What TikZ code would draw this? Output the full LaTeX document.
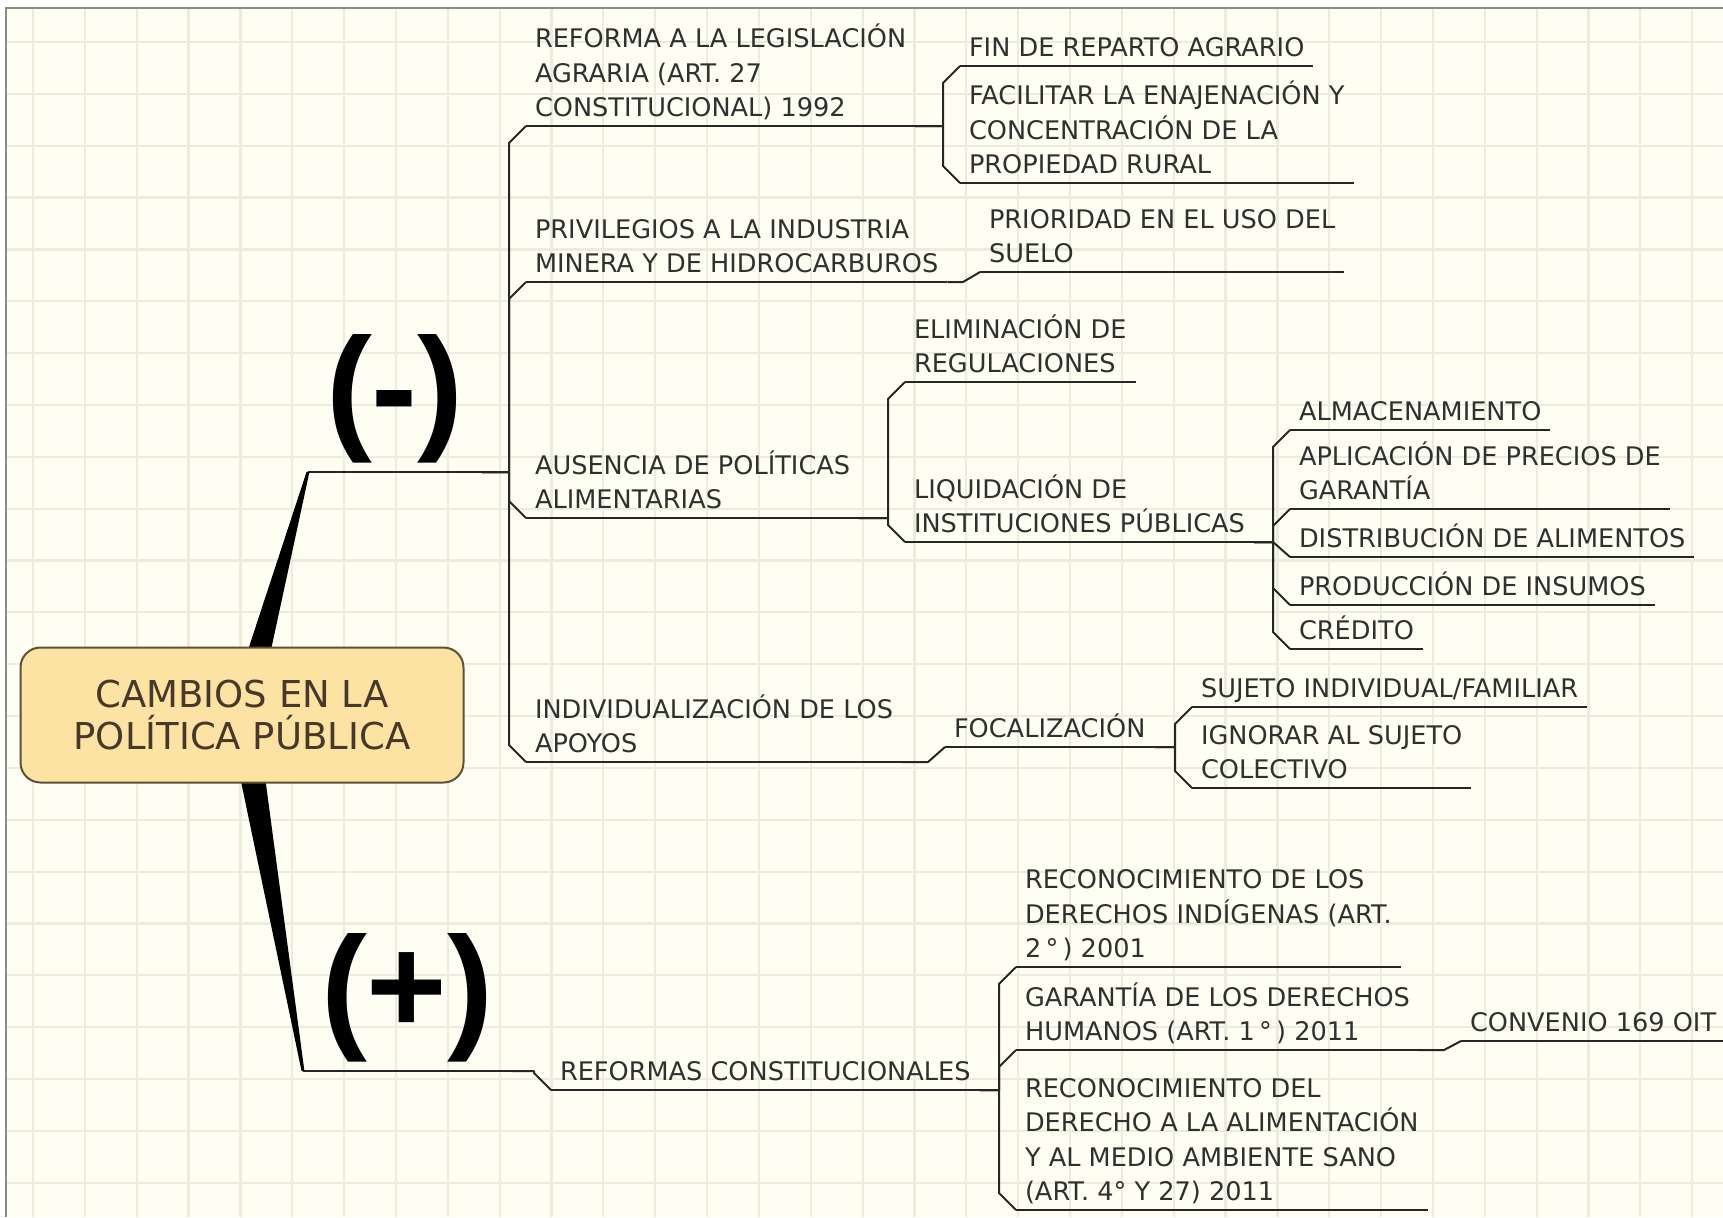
\documentclass[tikz,border=0pt]{standalone}
\usepackage{fontspec}
\setmainfont{DejaVu Sans}
\newfontfamily\signfont{Liberation Sans}
\usepackage{tikz}
\usetikzlibrary{calc}
\definecolor{sheet}{HTML}{FEFEF2}
\definecolor{gridtint}{HTML}{EBEBDE}
\definecolor{edgegray}{HTML}{8C8C80}
\definecolor{linegray}{HTML}{262626}
\definecolor{textgray}{HTML}{303030}
\definecolor{rootfill}{HTML}{FCE2A3}
\definecolor{rootline}{HTML}{5E5036}
\definecolor{roottext}{HTML}{46392A}
% parent underline -> bus -> bevel -> child underline
\newcommand{\twig}[2]{%
  \draw[uline] let \p1=(#1.south east), \p2=(#2.south west),
    \n1={min(8.5,abs(\y1-\y2))}, \n2={ifthenelse(\y1>\y2,1,-1)} in
    (\p1) -- ({\x2-8.5pt},\y1) -- ({\x2-8.5pt},{\y2+\n2*\n1}) -- (\p2);}

\begin{document}
\begin{tikzpicture}[x=0.5pt,y=-0.5pt,
   topic/.style={anchor=south west, align=left, inner xsep=4.5pt, inner ysep=4.75pt,
                 outer sep=0pt, text depth=0pt, text=textgray,
                 font=\fontsize{12.8}{17.25}\selectfont},
   polarity/.style={anchor=south west, inner xsep=9pt, inner ysep=4.5pt, outer sep=0pt,
                    text=black, font=\signfont\bfseries\fontsize{69}{69}\selectfont},
   rootbox/.style={draw=rootline, fill=rootfill, line width=1pt, rounded corners=10pt,
                   minimum width=221.5pt, minimum height=67.5pt, align=center,
                   text=roottext, font=\fontsize{18.5}{21}\selectfont},
   gridline/.style={draw=gridtint, line width=1.1pt},
   sheetedge/.style={draw=edgegray, line width=1.2pt},
   uline/.style={draw=linegray, line width=1pt, line join=round}]

  % Sheet, grid and frame
  \useasboundingbox (0,0) rectangle (1723,1217);
  \fill[white] (0,0) rectangle (1723,1217);
  \fill[sheet] (6,8) rectangle (1723,1217);
  \foreach \i in {0,...,32}
    \draw[gridline] ({33+51.85*\i},8) -- ({33+51.85*\i},1217);
  \foreach \j in {0,...,22}
    \draw[gridline] (6,{42+51.85*\j}) -- (1723,{42+51.85*\j});
  \draw[sheetedge] (6,1217) -- (6,8) -- (1723,8);

  % Hub of the map
  \coordinate (hub) at (242,715);

  % The two signs
  \node[polarity] (minus) at (308,472) {(-)};
  \node[polarity] (plus) at (303,1071) {(+)};

  % (-) branch
  \node[topic] (reforma) at (526,126) {REFORMA A LA LEGISLACIÓN\\AGRARIA (ART. 27\\CONSTITUCIONAL) 1992};
  \node[topic] (finreparto) at (960,66) {FIN DE REPARTO AGRARIO};
  \node[topic] (facilitar) at (960,183) {FACILITAR LA ENAJENACIÓN Y\\CONCENTRACIÓN DE LA\\PROPIEDAD RURAL};

  \node[topic] (privilegios) at (526,282) {PRIVILEGIOS A LA INDUSTRIA\\MINERA Y DE HIDROCARBUROS};
  \node[topic] (prioridad) at (980,272) {PRIORIDAD EN EL USO DEL\\SUELO};

  \node[topic] (ausencia) at (526,518) {AUSENCIA DE POLÍTICAS\\ALIMENTARIAS};
  \node[topic] (eliminacion) at (905,382) {ELIMINACIÓN DE\\REGULACIONES};
  \node[topic] (liquidacion) at (905,542) {LIQUIDACIÓN DE\\INSTITUCIONES PÚBLICAS};
  \node[topic] (almacen) at (1290,430) {ALMACENAMIENTO};
  \node[topic] (aplicacion) at (1290,509) {APLICACIÓN DE PRECIOS DE\\GARANTÍA};
  \node[topic] (distribucion) at (1290,557) {DISTRIBUCIÓN DE ALIMENTOS};
  \node[topic] (produccion) at (1290,605) {PRODUCCIÓN DE INSUMOS};
  \node[topic] (credito) at (1290,649) {CRÉDITO};

  \node[topic] (individ) at (526,762) {INDIVIDUALIZACIÓN DE LOS\\APOYOS};
  \node[topic] (focal) at (945,747) {FOCALIZACIÓN};
  \node[topic] (sujeto) at (1192,707) {SUJETO INDIVIDUAL/FAMILIAR};
  \node[topic] (ignorar) at (1192,788) {IGNORAR AL SUJETO\\COLECTIVO};

  % (+) branch
  \node[topic] (reformas) at (551,1090) {REFORMAS CONSTITUCIONALES};
  \node[topic] (indigenas) at (1016,967) {RECONOCIMIENTO DE LOS\\DERECHOS INDÍGENAS (ART.\\2\,°\,) 2001};
  \node[topic] (garantia) at (1016,1050) {GARANTÍA DE LOS DERECHOS\\HUMANOS (ART. 1\,°\,) 2011};
  \node[topic] (convenio) at (1461,1041) {CONVENIO 169 OIT};
  \node[topic] (alimentacion) at (1016,1210) {RECONOCIMIENTO DEL\\DERECHO A LA ALIMENTACIÓN\\Y AL MEDIO AMBIENTE SANO\\(ART. 4° Y 27) 2011};

  % Underlines
  \foreach \n in {minus,plus,reforma,finreparto,facilitar,privilegios,prioridad,
                  ausencia,eliminacion,liquidacion,almacen,aplicacion,distribucion,
                  produccion,credito,individ,focal,sujeto,ignorar,reformas,
                  indigenas,garantia,convenio,alimentacion}
    \draw[uline] (\n.south west) -- (\n.south east);

  % Connectors
  \twig{minus}{reforma} \twig{minus}{privilegios}
  \twig{minus}{ausencia} \twig{minus}{individ}
  \twig{reforma}{finreparto} \twig{reforma}{facilitar}
  \twig{privilegios}{prioridad}
  \twig{ausencia}{eliminacion} \twig{ausencia}{liquidacion}
  \twig{liquidacion}{almacen} \twig{liquidacion}{aplicacion}
  \twig{liquidacion}{distribucion} \twig{liquidacion}{produccion}
  \twig{liquidacion}{credito}
  \twig{individ}{focal}
  \twig{focal}{sujeto} \twig{focal}{ignorar}
  \twig{plus}{reformas}
  \twig{reformas}{indigenas} \twig{reformas}{garantia}
  \twig{reformas}{alimentacion}
  \twig{garantia}{convenio}

  % Tapered spokes from the hub
  \fill[black] ($(hub)!7.3pt!90:(minus.south west)$) -- ($(minus.south west)!0.7pt!-90:(hub)$)
    -- ($(minus.south west)!0.7pt!90:(hub)$) -- ($(hub)!7.3pt!-90:(minus.south west)$) -- cycle;
  \fill[black] ($(hub)!7.3pt!90:(plus.south west)$) -- ($(plus.south west)!0.7pt!-90:(hub)$)
    -- ($(plus.south west)!0.7pt!90:(hub)$) -- ($(hub)!7.3pt!-90:(plus.south west)$) -- cycle;

  % Central topic
  \node[rootbox] (root) at (hub) {CAMBIOS EN LA\\POLÍTICA PÚBLICA};
\end{tikzpicture}
\end{document}
